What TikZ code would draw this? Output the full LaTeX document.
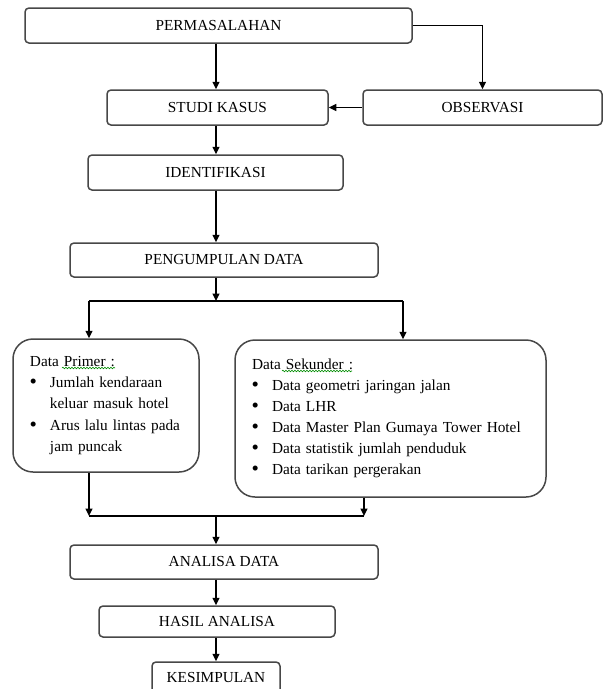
\documentclass[tikz,border=0pt]{standalone}
\usepackage{fontspec}
\setmainfont{Liberation Serif}
\usepackage{tikz}
\usetikzlibrary{arrows.meta,decorations.pathmorphing}

\newcommand{\butir}{\makebox[20pt][l]{\hspace{-0.5pt}\raisebox{-1pt}{\fontsize{21}{21}\selectfont\textbullet}}}
\newcommand{\lanjut}{\hspace*{20pt}}

\begin{document}
\begin{tikzpicture}[
            x=1pt, y=1pt,
            kotak/.style={draw=black!72, line width=1.5pt, rounded corners=4pt, align=center, inner sep=0pt},
            kotakbesar/.style={draw=black!72, line width=1.5pt, rounded corners=20pt, align=left, inner xsep=17pt, inner ysep=0pt},
            panah/.style={-{Triangle[length=7.5pt,width=7pt]}, line width=1.3pt},
            garis/.style={line width=1.3pt},
            ejaan/.style={draw=green!55!black, line width=0.6pt, decorate, decoration={snake, segment length=3pt, amplitude=0.8pt}},
            font=\fontsize{15.3}{21}\selectfont
        ]
            \useasboundingbox (0,0) rectangle (605,-689);
            \clip (0,0) rectangle (605,-689);
            % Boxes
            \node[kotak, minimum width=387, minimum height=35] (masalah) at (218.5,-25.5) {PERMASALAHAN};
            \node[kotak, minimum width=221, minimum height=35] (studi) at (217.5,-107.5) {STUDI KASUS};
            \node[kotak, minimum width=239, minimum height=35] (observasi) at (482.5,-107.5) {OBSERVASI};
            \node[kotak, minimum width=255, minimum height=35] (identifikasi) at (215.5,-172.5) {IDENTIFIKASI};
            \node[kotak, minimum width=308, minimum height=34] (kumpul) at (224,-260) {PENGUMPULAN DATA};
            \node[kotakbesar, text width=152, minimum height=133] (primer) at (106,-405.5)
                {Data Primer :\\
                 \butir Jumlah kendaraan\\
                 \lanjut keluar masuk hotel\\[1pt]
                 \butir Arus lalu lintas pada\\
                 \lanjut jam puncak};
            \node[kotakbesar, text width=277, minimum height=157] (sekunder) at (390.5,-418.5)
                {Data Sekunder :\\
                 \butir Data geometri jaringan jalan\\
                 \butir Data LHR\\
                 \butir Data Master Plan Gumaya Tower Hotel\\
                 \butir Data statistik jumlah penduduk\\
                 \butir Data tarikan pergerakan};
            \node[kotak, minimum width=308, minimum height=34] (analisa) at (224,-562) {ANALISA DATA};
            \node[kotak, minimum width=236, minimum height=31] (hasil) at (217,-621.5) {HASIL ANALISA};
            \node[kotak, minimum width=128, minimum height=32] (simpulan) at (216,-678) {KESIMPULAN};
            % spell-check marks
            \draw[ejaan] (62,-368) -- (115,-368);
            \draw[ejaan] (282,-371) -- (352,-371);
            % Arrows
            \coordinate (poros) at (216,0);
            \coordinate (cabang) at (216,-301);
            \coordinate (cabangkiri) at (89,-301);
            \coordinate (cabangkanan) at (403,-301);
            \coordinate (gabung) at (216,-516);
            \coordinate (gabungkiri) at (89,-516);
            \coordinate (gabungkanan) at (364,-516);
            \draw[panah] (masalah.south -| poros) -- (studi.north -| poros);
            \draw[panah] (masalah.east) -| (observasi);
            \draw[panah] (observasi) -- (studi);
            \draw[panah] (studi.south -| poros) -- (identifikasi.north -| poros);
            \draw[panah] (identifikasi.south -| poros) -- (kumpul.north -| poros);
            \draw[panah] (kumpul.south -| poros) -- (cabang);
            \draw[garis] (cabangkiri) -- (cabangkanan);
            \draw[panah] (cabangkiri) -- (primer.north -| cabangkiri);
            \draw[panah] (cabangkanan) -- (sekunder.north -| cabangkanan);
            \draw[panah] (primer.south -| gabungkiri) -- (gabungkiri);
            \draw[panah] (sekunder.south -| gabungkanan) -- (gabungkanan);
            \draw[garis] (gabungkiri) -- (gabungkanan);
            \draw[panah] (gabung) -- (analisa.north -| poros);
            \draw[panah] (analisa.south -| poros) -- (hasil.north -| poros);
            \draw[panah] (hasil.south -| poros) -- (simpulan.north -| poros);
        \end{tikzpicture}
\end{document}
